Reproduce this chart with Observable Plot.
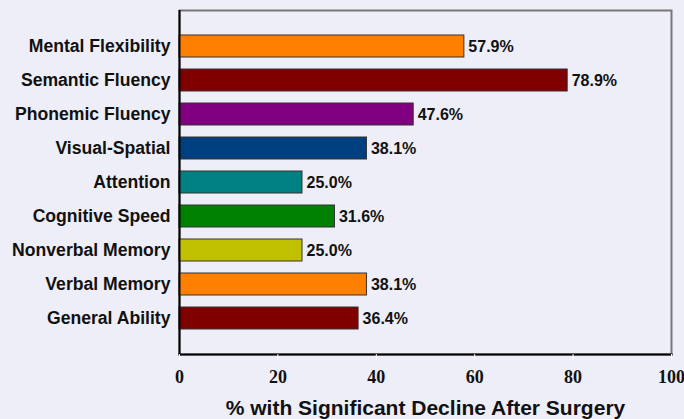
<!DOCTYPE html>
<html>
<head>
<meta charset="utf-8">
<script src="https://cdn.jsdelivr.net/npm/d3@7"></script>
<script src="https://cdn.jsdelivr.net/npm/@observablehq/plot@0.6"></script>
<style>
  html, body { margin: 0; padding: 0; background: #eeeef8; }
  #chart { width: 684px; height: 419px; }
</style>
</head>
<body>
<div id="chart"></div>
<script>
const categories = ["Mental Flexibility", "Semantic Fluency", "Phonemic Fluency", "Visual-Spatial", "Attention", "Cognitive Speed", "Nonverbal Memory", "Verbal Memory", "General Ability"];
const values = [57.9, 78.9, 47.6, 38.1, 25.0, 31.6, 25.0, 38.1, 36.4];
const colors = ["#ff8000", "#800000", "#800080", "#004080", "#008080", "#008000", "#c0c000", "#ff8000", "#800000"];
const xTicks = [0, 20, 40, 60, 80, 100];
const xTitle = "% with Significant Decline After Surgery";

const data = categories.map((name, i) => ({name, value: values[i], color: colors[i]}));

const chart = Plot.plot({
  width: 684,
  height: 419,
  marginLeft: 179,
  marginRight: 13,
  marginTop: 10,
  marginBottom: 65,
  style: {background: "#eeeef8", overflow: "visible"},
  x: {domain: [0, 100]},
  y: {domain: categories, paddingInner: 0.36, paddingOuter: 0.666},
  marks: [
    Plot.frame({stroke: "#777777", strokeWidth: 2}),
    Plot.barX(data, {x: "value", y: "name", fill: "color", stroke: "#333333", strokeWidth: 1}),
    Plot.text(data, {x: "value", y: "name", text: d => d.value.toFixed(1) + "%", textAnchor: "start", dx: 4, fontSize: 16, fontWeight: "bold", fontFamily: "Liberation Sans, Arial, sans-serif", fill: "#111"}),
    Plot.ruleX([0], {stroke: "black", strokeWidth: 2}),
    Plot.frame({anchor: "bottom", stroke: "black", strokeWidth: 2}),
    Plot.axisY({tickSize: 0, tickPadding: 9, fontSize: 17.6, fontWeight: "bold", fontFamily: "Liberation Sans, Arial, sans-serif", label: null, fill: "#111"}),
    Plot.axisX({ticks: xTicks, tickSize: 6, tickPadding: 10, stroke: "white", fontSize: 18, fontWeight: "bold", fontFamily: "Liberation Serif, Times New Roman, serif", label: null, fill: "#111"}),
    Plot.text([xTitle], {frameAnchor: "bottom", lineAnchor: "middle", dy: 54, fontSize: 21, fontWeight: "bold", fontFamily: "Liberation Sans, Arial, sans-serif", fill: "#111"})
  ]
});
document.getElementById("chart").appendChild(chart);
</script>
</body>
</html>
